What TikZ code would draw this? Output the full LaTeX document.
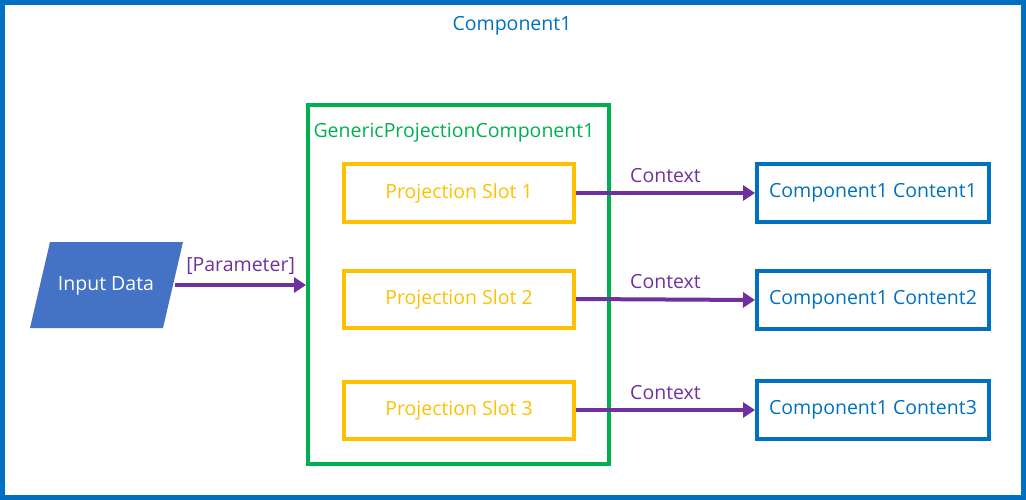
\documentclass[tikz,border=0pt]{standalone}
\usepackage{fontspec}
\setmainfont{Open Sans}
\usetikzlibrary{arrows.meta,positioning}
\definecolor{outerblue}{HTML}{0070C0}
\definecolor{gengreen}{HTML}{00B050}
\definecolor{slotorange}{HTML}{FFC000}
\definecolor{ctxpurple}{HTML}{7030A0}
\definecolor{inputblue}{HTML}{4472C4}
\tikzset{
  slotbox/.style={draw=slotorange, line width=4pt, minimum width=230pt, minimum height=57pt, text=slotorange},
  contentbox/.style={draw=outerblue, line width=4pt, minimum width=232pt, minimum height=58pt, text=outerblue},
  ctxarrow/.style={draw=ctxpurple, line width=4pt, -{Triangle[length=12pt,width=15pt]}},
  ctxlabel/.style={text=ctxpurple, above=5pt}
}
\begin{document}
\begin{tikzpicture}[x=1pt,y=-1pt,font=\fontsize{19.5}{23}\selectfont]
    \useasboundingbox (0,0) rectangle (1026,500);
    \draw[outerblue, line width=5pt] (2.5,2.5) rectangle (1023.5,497.5);
    \node(Title) [text=outerblue] at (512,26) {Component1};
    % generic projection component
    \draw[gengreen, line width=4pt] (308,105) rectangle (609,464);
    \node(Generic) [text=gengreen, anchor=west] at (310,133) {GenericProjectionComponent1};
    \node(SlotA) [slotbox] at (459,193) {Projection Slot 1};
    \node(SlotB) [slotbox] at (459,299) {Projection Slot 2};
    \node(SlotC) [slotbox] at (459,410) {Projection Slot 3};
    \coordinate(GenIn) at (306,285);
    % contents
    \node(ContentA) [contentbox] at (873,193) {Component1 Content1};
    \node(ContentB) [contentbox] at (873,300) {Component1 Content2};
    \node(ContentC) [contentbox] at (873,410) {Component1 Content3};
    % input
    \fill[inputblue] (50,242) -- (183,242) -- (163,328) -- (30,328) -- cycle;
    \node(Input) [text=white, minimum width=138pt] at (106,286) {Input Data};
    \draw[ctxarrow] (Input.east |- GenIn) -- node[ctxlabel] {[Parameter]} (GenIn);
    \draw[ctxarrow] (SlotA.east) -- node[ctxlabel] {Context} (ContentA.west);
    \draw[ctxarrow] (SlotB.east) -- node[ctxlabel] {Context} (ContentB.west);
    \draw[ctxarrow] (SlotC.east) -- node[ctxlabel] {Context} (ContentC.west);
\end{tikzpicture}
\end{document}
